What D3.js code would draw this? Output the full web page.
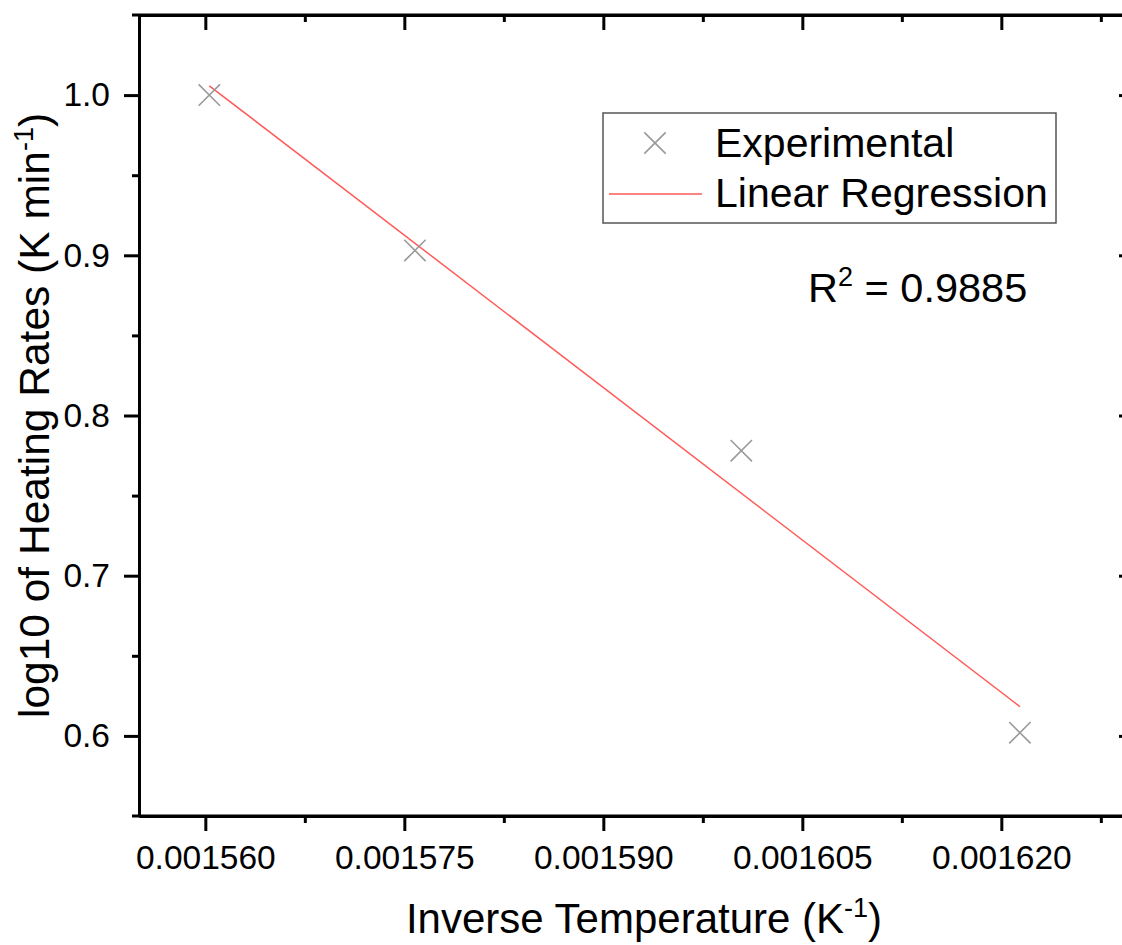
<!DOCTYPE html>
<html>
<head>
<meta charset="utf-8">
<script src="https://cdn.jsdelivr.net/npm/d3@7"></script>
<style>
  body { margin: 0; background: #fff; overflow: hidden; }
  svg { display: block; }
  text { font-family: Arial, "Liberation Sans", sans-serif; fill: #000; }
</style>
</head>
<body>
<svg id="chart" width="1122" height="945"></svg>
<script>
// data
const inverseTemp = [0.0015603, 0.0015758, 0.0016004, 0.0016214];
const logRate = [1.0, 0.903, 0.778, 0.602];
const fitX = [0.0015603, 0.0016214];
const fitY = [1.0058, 0.6183];
const xMajor = [0.00156, 0.001575, 0.00159, 0.001605, 0.00162];
const xMinor = [0.0015675, 0.0015825, 0.0015975, 0.0016125, 0.0016275];
const yMajor = [0.6, 0.7, 0.8, 0.9, 1.0];
const yMinor = [0.65, 0.75, 0.85, 0.95];
const legendLabels = ['Experimental', 'Linear Regression'];
const r2Label = '0.9885';

const svg = d3.select('#chart');
const margin = { left: 139, right: 1134, top: 15, bottom: 816 };

const x = d3.scaleLinear().domain([0.001555, 0.00163]).range([margin.left, margin.right]);
const y = d3.scaleLinear().domain([0.55, 1.05]).range([margin.bottom, margin.top]);

function styleAxis(g) {
    g.select('.domain').attr('stroke', '#000').attr('stroke-width', 3);
    g.selectAll('.tick line').attr('stroke', '#000').attr('stroke-width', 3);
    g.selectAll('.tick text').style('font-size', '33.5px').attr('fill', '#000');
}

// bottom
svg.append('g')
    .attr('transform', `translate(0,${margin.bottom})`)
    .call(d3.axisBottom(x).tickValues(xMinor).tickSize(7).tickFormat('').tickSizeOuter(0))
    .call(styleAxis);
svg.append('g')
    .attr('transform', `translate(0,${margin.bottom})`)
    .call(d3.axisBottom(x).tickValues(xMajor).tickSize(15).tickPadding(14).tickFormat(d3.format('.6f')).tickSizeOuter(0))
    .call(styleAxis);

// top (inward ticks)
svg.append('g')
    .attr('transform', `translate(0,${margin.top})`)
    .call(d3.axisTop(x).tickValues(xMinor).tickSize(-7).tickFormat('').tickSizeOuter(0))
    .call(styleAxis);
svg.append('g')
    .attr('transform', `translate(0,${margin.top})`)
    .call(d3.axisTop(x).tickValues(xMajor).tickSize(-15).tickFormat('').tickSizeOuter(0))
    .call(styleAxis);

// left
svg.append('g')
    .attr('transform', `translate(${margin.left},0)`)
    .call(d3.axisLeft(y).tickValues(yMinor).tickSize(7).tickFormat('').tickSizeOuter(0))
    .call(styleAxis);
svg.append('g')
    .attr('transform', `translate(${margin.left},0)`)
    .call(d3.axisLeft(y).tickValues(yMajor).tickSize(15).tickPadding(14).tickFormat(d3.format('.1f')).tickSizeOuter(0))
    .call(styleAxis);

// right (inward ticks)
svg.append('g')
    .attr('transform', `translate(${margin.right},0)`)
    .call(d3.axisRight(y).tickValues(yMinor).tickSize(-7).tickFormat('').tickSizeOuter(0))
    .call(styleAxis);
svg.append('g')
    .attr('transform', `translate(${margin.right},0)`)
    .call(d3.axisRight(y).tickValues(yMajor).tickSize(-15).tickFormat('').tickSizeOuter(0))
    .call(styleAxis);

// top and bottom frame lines overhang the left axis a little
[margin.top, margin.bottom].forEach(py => {
    svg.append('line')
        .attr('x1', margin.left - 7).attr('x2', margin.right)
        .attr('y1', py).attr('y2', py)
        .attr('stroke', '#000').attr('stroke-width', 3);
});

// regression line
svg.append('path')
    .datum(fitX.map((d, i) => [d, fitY[i]]))
    .attr('fill', 'none')
    .attr('stroke', '#ff5a5a')
    .attr('stroke-width', 1.5)
    .attr('d', d3.line().x(d => x(d[0])).y(d => y(d[1])));

// experimental points
const cross = d3.symbol().type(d3.symbolX).size(300);
svg.append('g')
    .selectAll('path')
    .data(inverseTemp.map((d, i) => [d, logRate[i]]))
    .join('path')
    .attr('transform', d => `translate(${x(d[0])},${y(d[1])})`)
    .attr('d', cross)
    .attr('fill', 'none')
    .attr('stroke', '#9a9a9a')
    .attr('stroke-width', 1.6);

// legend
const legend = svg.append('g').attr('transform', 'translate(603,113)');
legend.append('rect')
    .attr('width', 453).attr('height', 110)
    .attr('fill', '#fff').attr('stroke', '#555').attr('stroke-width', 1.5);
legend.append('path')
    .attr('transform', 'translate(52,30)')
    .attr('d', cross)
    .attr('fill', 'none').attr('stroke', '#9a9a9a').attr('stroke-width', 1.6);
legend.append('line')
    .attr('x1', 6).attr('x2', 99).attr('y1', 81).attr('y2', 81)
    .attr('stroke', '#ff5a5a').attr('stroke-width', 1.5);
legend.selectAll('text')
    .data(legendLabels)
    .join('text')
    .attr('x', 112)
    .attr('y', (d, i) => 44 + i * 50)
    .style('font-size', '41px')
    .text(d => d);

// R^2 annotation
const r2 = svg.append('text').attr('x', 808).attr('y', 302).style('font-size', '41.5px');
r2.append('tspan').text('R');
r2.append('tspan').attr('dy', -16).style('font-size', '27px').text('2');
r2.append('tspan').attr('dy', 16).text(' = ' + r2Label);

// axis titles
const xt = svg.append('text')
    .attr('x', 644)
    .attr('y', 933)
    .attr('text-anchor', 'middle')
    .style('font-size', '42px');
xt.append('tspan').text('Inverse Temperature (K');
xt.append('tspan').attr('dy', -16).style('font-size', '27px').text('-1');
xt.append('tspan').attr('dy', 16).text(')');

const yt = svg.append('text')
    .attr('transform', `translate(49,${(margin.top + margin.bottom) / 2}) rotate(-90)`)
    .attr('text-anchor', 'middle')
    .style('font-size', '42.5px');
yt.append('tspan').text('log10 of Heating Rates (K min');
yt.append('tspan').attr('dy', -16).style('font-size', '27px').text('-1');
yt.append('tspan').attr('dy', 16).text(')');
</script>
</body>
</html>
